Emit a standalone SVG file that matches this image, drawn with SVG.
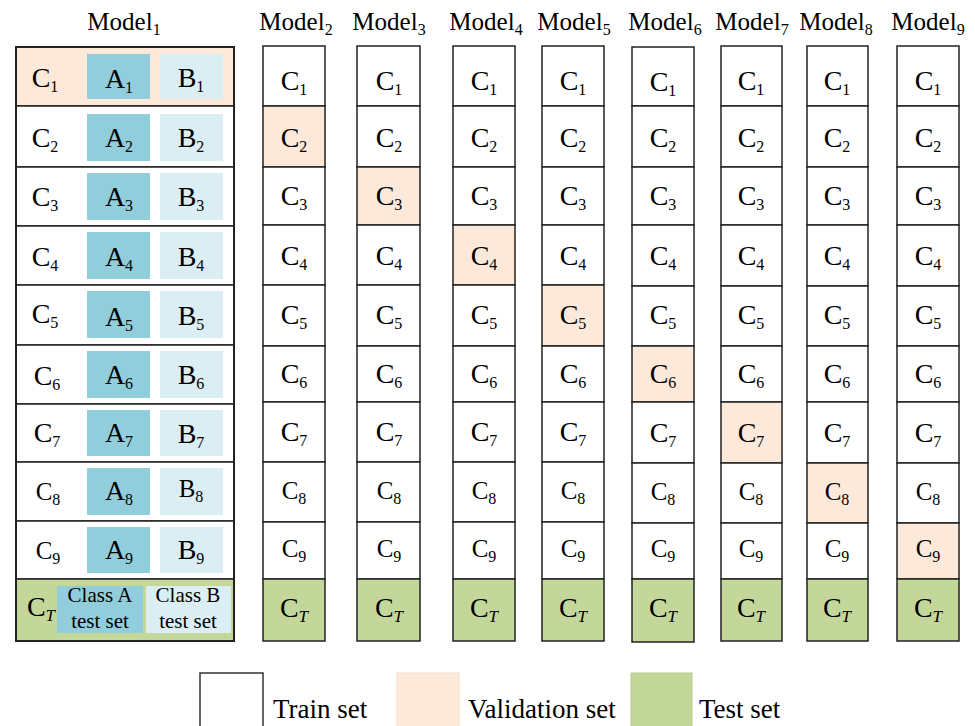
<svg xmlns="http://www.w3.org/2000/svg" width="975" height="726" viewBox="0 0 975 726">
<style>
text{font-family:"Liberation Serif","Times New Roman",serif;fill:#000}
.t{font-size:25px}
.c{font-size:28px;text-anchor:middle}
.s{font-size:16px}
.ts{font-size:17px;font-style:italic}
.cap{font-size:21px;text-anchor:middle}
.lg{font-size:27px}
.cell{fill:#fff;stroke:#222;stroke-width:1.5}
.val{fill:#FDE9D9;stroke:#222;stroke-width:1.5}
.tst{fill:#C4D79B;stroke:#222;stroke-width:1.5}
.a{fill:#92CDDC}
.b{fill:#DAEEF3}
</style>

<g id="titles">
<text class="t" x="124" y="30" text-anchor="middle">Model<tspan class="s" dy="5">1</tspan></text>
<text class="t" x="296" y="30" text-anchor="middle">Model<tspan class="s" dy="5">2</tspan></text>
<text class="t" x="389" y="30" text-anchor="middle">Model<tspan class="s" dy="5">3</tspan></text>
<text class="t" x="486" y="30" text-anchor="middle">Model<tspan class="s" dy="5">4</tspan></text>
<text class="t" x="574" y="30" text-anchor="middle">Model<tspan class="s" dy="5">5</tspan></text>
<text class="t" x="665" y="30" text-anchor="middle">Model<tspan class="s" dy="5">6</tspan></text>
<text class="t" x="752" y="30" text-anchor="middle">Model<tspan class="s" dy="5">7</tspan></text>
<text class="t" x="836" y="30" text-anchor="middle">Model<tspan class="s" dy="5">8</tspan></text>
<text class="t" x="928" y="30" text-anchor="middle">Model<tspan class="s" dy="5">9</tspan></text>
</g>

<g id="model1">
<rect class="val" x="16" y="47" width="218" height="59"/>
<rect class="cell" x="16" y="106" width="218" height="61"/>
<rect class="cell" x="16" y="167" width="218" height="59"/>
<rect class="cell" x="16" y="226" width="218" height="59"/>
<rect class="cell" x="16" y="285" width="218" height="60"/>
<rect class="cell" x="16" y="345" width="218" height="59"/>
<rect class="cell" x="16" y="404" width="218" height="58"/>
<rect class="cell" x="16" y="462" width="218" height="59"/>
<rect class="cell" x="16" y="521" width="218" height="58"/>
<rect class="tst" x="16" y="579" width="218" height="62"/>
<rect x="16" y="47" width="218" height="594" fill="none" stroke="#222" stroke-width="2"/>
<g>
<rect class="a" x="87" y="54" width="63" height="45"/><rect class="b" x="160" y="54" width="63" height="45"/>
<rect class="a" x="87" y="114" width="63" height="47"/><rect class="b" x="160" y="114" width="63" height="47"/>
<rect class="a" x="87" y="173" width="63" height="47"/><rect class="b" x="160" y="173" width="63" height="47"/>
<rect class="a" x="87" y="232" width="63" height="47"/><rect class="b" x="160" y="232" width="63" height="47"/>
<rect class="a" x="87" y="291" width="63" height="47"/><rect class="b" x="160" y="291" width="63" height="47"/>
<rect class="a" x="87" y="351" width="63" height="47"/><rect class="b" x="160" y="351" width="63" height="47"/>
<rect class="a" x="87" y="410" width="63" height="46"/><rect class="b" x="160" y="410" width="63" height="46"/>
<rect class="a" x="87" y="468" width="63" height="47"/><rect class="b" x="160" y="468" width="63" height="47"/>
<rect class="a" x="87" y="527" width="63" height="46"/><rect class="b" x="160" y="527" width="63" height="46"/>
<rect class="a" x="57" y="586" width="86" height="47"/><rect class="b" x="146" y="586" width="85" height="47"/>
</g>
<g>
<text class="c" x="45" y="87">C<tspan class="s" dy="5">1</tspan></text>
<text class="c" x="119" y="88">A<tspan class="s" dy="5">1</tspan></text>
<text class="c" x="191" y="87">B<tspan class="s" dy="5">1</tspan></text>
<text class="c" x="45" y="147">C<tspan class="s" dy="5">2</tspan></text>
<text class="c" x="119" y="147">A<tspan class="s" dy="5">2</tspan></text>
<text class="c" x="191" y="147">B<tspan class="s" dy="5">2</tspan></text>
<text class="c" x="45" y="206">C<tspan class="s" dy="5">3</tspan></text>
<text class="c" x="119" y="206">A<tspan class="s" dy="5">3</tspan></text>
<text class="c" x="191" y="206">B<tspan class="s" dy="5">3</tspan></text>
<text class="c" x="45" y="266">C<tspan class="s" dy="5">4</tspan></text>
<text class="c" x="119" y="266">A<tspan class="s" dy="5">4</tspan></text>
<text class="c" x="191" y="266">B<tspan class="s" dy="5">4</tspan></text>
<text class="c" x="45" y="323">C<tspan class="s" dy="5">5</tspan></text>
<text class="c" x="119" y="326">A<tspan class="s" dy="5">5</tspan></text>
<text class="c" x="191" y="325">B<tspan class="s" dy="5">5</tspan></text>
<text class="c" x="47" y="385">C<tspan class="s" dy="5">6</tspan></text>
<text class="c" x="119" y="384">A<tspan class="s" dy="5">6</tspan></text>
<text class="c" x="191" y="384">B<tspan class="s" dy="5">6</tspan></text>
<text class="c" x="47" y="442">C<tspan class="s" dy="5">7</tspan></text>
<text class="c" x="119" y="442">A<tspan class="s" dy="5">7</tspan></text>
<text class="c" x="191" y="443">B<tspan class="s" dy="5">7</tspan></text>
<text class="c" x="48" y="500" style="font-size:25px">C<tspan class="s" dy="5">8</tspan></text>
<text class="c" x="119" y="500">A<tspan class="s" dy="5">8</tspan></text>
<text class="c" x="191" y="497" style="font-size:25px">B<tspan class="s" dy="5">8</tspan></text>
<text class="c" x="48" y="559" style="font-size:25px">C<tspan class="s" dy="5">9</tspan></text>
<text class="c" x="119" y="559">A<tspan class="s" dy="5">9</tspan></text>
<text class="c" x="191" y="559">B<tspan class="s" dy="5">9</tspan></text>
<text class="c" x="41" y="616">C<tspan class="ts" dy="5">T</tspan></text>
<text class="cap" x="100" y="602">Class A</text>
<text class="cap" x="100" y="628">test set</text>
<text class="cap" x="188" y="602">Class B</text>
<text class="cap" x="188" y="628">test set</text>
</g>
</g>

<g id="model2">
<rect class="cell" x="263" y="46" width="62" height="60"/>
<rect class="val" x="263" y="106" width="62" height="61"/>
<rect class="cell" x="263" y="167" width="62" height="58"/>
<rect class="cell" x="263" y="225" width="62" height="60"/>
<rect class="cell" x="263" y="285" width="62" height="61"/>
<rect class="cell" x="263" y="346" width="62" height="56"/>
<rect class="cell" x="263" y="402" width="62" height="60"/>
<rect class="cell" x="263" y="462" width="62" height="60"/>
<rect class="cell" x="263" y="522" width="62" height="57"/>
<rect class="tst" x="263" y="579" width="62" height="62"/>
<g>
<text class="c" x="294" y="90">C<tspan class="s" dy="5">1</tspan></text>
<text class="c" x="294" y="147">C<tspan class="s" dy="5">2</tspan></text>
<text class="c" x="294" y="205">C<tspan class="s" dy="5">3</tspan></text>
<text class="c" x="294" y="265">C<tspan class="s" dy="5">4</tspan></text>
<text class="c" x="294" y="324">C<tspan class="s" dy="5">5</tspan></text>
<text class="c" x="294" y="383">C<tspan class="s" dy="5">6</tspan></text>
<text class="c" x="294" y="441">C<tspan class="s" dy="5">7</tspan></text>
<text class="c" x="294" y="499" style="font-size:25px">C<tspan class="s" dy="5">8</tspan></text>
<text class="c" x="294" y="557" style="font-size:25px">C<tspan class="s" dy="5">9</tspan></text>
<text class="c" x="294" y="617">C<tspan class="ts" dy="5">T</tspan></text>
</g>
</g>

<g id="model3">
<rect class="cell" x="357" y="46" width="63" height="60"/>
<rect class="cell" x="357" y="106" width="63" height="61"/>
<rect class="val" x="357" y="167" width="63" height="58"/>
<rect class="cell" x="357" y="225" width="63" height="60"/>
<rect class="cell" x="357" y="285" width="63" height="61"/>
<rect class="cell" x="357" y="346" width="63" height="56"/>
<rect class="cell" x="357" y="402" width="63" height="60"/>
<rect class="cell" x="357" y="462" width="63" height="60"/>
<rect class="cell" x="357" y="522" width="63" height="57"/>
<rect class="tst" x="357" y="579" width="63" height="62"/>
<g>
<text class="c" x="389" y="90">C<tspan class="s" dy="5">1</tspan></text>
<text class="c" x="389" y="147">C<tspan class="s" dy="5">2</tspan></text>
<text class="c" x="389" y="205">C<tspan class="s" dy="5">3</tspan></text>
<text class="c" x="389" y="265">C<tspan class="s" dy="5">4</tspan></text>
<text class="c" x="389" y="324">C<tspan class="s" dy="5">5</tspan></text>
<text class="c" x="389" y="383">C<tspan class="s" dy="5">6</tspan></text>
<text class="c" x="389" y="441">C<tspan class="s" dy="5">7</tspan></text>
<text class="c" x="389" y="499" style="font-size:25px">C<tspan class="s" dy="5">8</tspan></text>
<text class="c" x="389" y="557" style="font-size:25px">C<tspan class="s" dy="5">9</tspan></text>
<text class="c" x="389" y="617">C<tspan class="ts" dy="5">T</tspan></text>
</g>
</g>

<g id="model4">
<rect class="cell" x="453" y="46" width="62" height="60"/>
<rect class="cell" x="453" y="106" width="62" height="61"/>
<rect class="cell" x="453" y="167" width="62" height="58"/>
<rect class="val" x="453" y="225" width="62" height="60"/>
<rect class="cell" x="453" y="285" width="62" height="61"/>
<rect class="cell" x="453" y="346" width="62" height="56"/>
<rect class="cell" x="453" y="402" width="62" height="60"/>
<rect class="cell" x="453" y="462" width="62" height="60"/>
<rect class="cell" x="453" y="522" width="62" height="57"/>
<rect class="tst" x="453" y="579" width="62" height="62"/>
<g>
<text class="c" x="484" y="90">C<tspan class="s" dy="5">1</tspan></text>
<text class="c" x="484" y="147">C<tspan class="s" dy="5">2</tspan></text>
<text class="c" x="484" y="205">C<tspan class="s" dy="5">3</tspan></text>
<text class="c" x="484" y="265">C<tspan class="s" dy="5">4</tspan></text>
<text class="c" x="484" y="324">C<tspan class="s" dy="5">5</tspan></text>
<text class="c" x="484" y="383">C<tspan class="s" dy="5">6</tspan></text>
<text class="c" x="484" y="441">C<tspan class="s" dy="5">7</tspan></text>
<text class="c" x="484" y="499" style="font-size:25px">C<tspan class="s" dy="5">8</tspan></text>
<text class="c" x="484" y="557" style="font-size:25px">C<tspan class="s" dy="5">9</tspan></text>
<text class="c" x="484" y="617">C<tspan class="ts" dy="5">T</tspan></text>
</g>
</g>

<g id="model5">
<rect class="cell" x="542" y="46" width="62" height="60"/>
<rect class="cell" x="542" y="106" width="62" height="61"/>
<rect class="cell" x="542" y="167" width="62" height="58"/>
<rect class="cell" x="542" y="225" width="62" height="60"/>
<rect class="val" x="542" y="285" width="62" height="61"/>
<rect class="cell" x="542" y="346" width="62" height="56"/>
<rect class="cell" x="542" y="402" width="62" height="60"/>
<rect class="cell" x="542" y="462" width="62" height="60"/>
<rect class="cell" x="542" y="522" width="62" height="57"/>
<rect class="tst" x="542" y="579" width="62" height="62"/>
<g>
<text class="c" x="573" y="90">C<tspan class="s" dy="5">1</tspan></text>
<text class="c" x="573" y="147">C<tspan class="s" dy="5">2</tspan></text>
<text class="c" x="573" y="205">C<tspan class="s" dy="5">3</tspan></text>
<text class="c" x="573" y="265">C<tspan class="s" dy="5">4</tspan></text>
<text class="c" x="573" y="324">C<tspan class="s" dy="5">5</tspan></text>
<text class="c" x="573" y="383">C<tspan class="s" dy="5">6</tspan></text>
<text class="c" x="573" y="441">C<tspan class="s" dy="5">7</tspan></text>
<text class="c" x="573" y="499" style="font-size:25px">C<tspan class="s" dy="5">8</tspan></text>
<text class="c" x="573" y="557" style="font-size:25px">C<tspan class="s" dy="5">9</tspan></text>
<text class="c" x="573" y="617">C<tspan class="ts" dy="5">T</tspan></text>
</g>
</g>

<g id="model6">
<rect class="cell" x="632" y="47" width="62" height="59"/>
<rect class="cell" x="632" y="106" width="62" height="61"/>
<rect class="cell" x="632" y="167" width="62" height="58"/>
<rect class="cell" x="632" y="225" width="62" height="61"/>
<rect class="cell" x="632" y="286" width="62" height="60"/>
<rect class="val" x="632" y="346" width="62" height="56"/>
<rect class="cell" x="632" y="402" width="62" height="61"/>
<rect class="cell" x="632" y="463" width="62" height="60"/>
<rect class="cell" x="632" y="523" width="62" height="56"/>
<rect class="tst" x="632" y="579" width="62" height="63"/>
<g>
<text class="c" x="663" y="91">C<tspan class="s" dy="5">1</tspan></text>
<text class="c" x="663" y="147">C<tspan class="s" dy="5">2</tspan></text>
<text class="c" x="663" y="205">C<tspan class="s" dy="5">3</tspan></text>
<text class="c" x="663" y="265">C<tspan class="s" dy="5">4</tspan></text>
<text class="c" x="663" y="324">C<tspan class="s" dy="5">5</tspan></text>
<text class="c" x="663" y="383">C<tspan class="s" dy="5">6</tspan></text>
<text class="c" x="663" y="442">C<tspan class="s" dy="5">7</tspan></text>
<text class="c" x="663" y="500" style="font-size:25px">C<tspan class="s" dy="5">8</tspan></text>
<text class="c" x="663" y="557" style="font-size:25px">C<tspan class="s" dy="5">9</tspan></text>
<text class="c" x="663" y="617">C<tspan class="ts" dy="5">T</tspan></text>
</g>
</g>

<g id="model7">
<rect class="cell" x="721" y="46" width="61" height="60"/>
<rect class="cell" x="721" y="106" width="61" height="61"/>
<rect class="cell" x="721" y="167" width="61" height="58"/>
<rect class="cell" x="721" y="225" width="61" height="61"/>
<rect class="cell" x="721" y="286" width="61" height="60"/>
<rect class="cell" x="721" y="346" width="61" height="56"/>
<rect class="val" x="721" y="402" width="61" height="61"/>
<rect class="cell" x="721" y="463" width="61" height="60"/>
<rect class="cell" x="721" y="523" width="61" height="56"/>
<rect class="tst" x="721" y="579" width="61" height="62"/>
<g>
<text class="c" x="751" y="90">C<tspan class="s" dy="5">1</tspan></text>
<text class="c" x="751" y="147">C<tspan class="s" dy="5">2</tspan></text>
<text class="c" x="751" y="205">C<tspan class="s" dy="5">3</tspan></text>
<text class="c" x="751" y="265">C<tspan class="s" dy="5">4</tspan></text>
<text class="c" x="751" y="324">C<tspan class="s" dy="5">5</tspan></text>
<text class="c" x="751" y="383">C<tspan class="s" dy="5">6</tspan></text>
<text class="c" x="751" y="442">C<tspan class="s" dy="5">7</tspan></text>
<text class="c" x="751" y="500" style="font-size:25px">C<tspan class="s" dy="5">8</tspan></text>
<text class="c" x="751" y="557" style="font-size:25px">C<tspan class="s" dy="5">9</tspan></text>
<text class="c" x="751" y="617">C<tspan class="ts" dy="5">T</tspan></text>
</g>
</g>

<g id="model8">
<rect class="cell" x="807" y="46" width="61" height="60"/>
<rect class="cell" x="807" y="106" width="61" height="61"/>
<rect class="cell" x="807" y="167" width="61" height="58"/>
<rect class="cell" x="807" y="225" width="61" height="61"/>
<rect class="cell" x="807" y="286" width="61" height="60"/>
<rect class="cell" x="807" y="346" width="61" height="56"/>
<rect class="cell" x="807" y="402" width="61" height="61"/>
<rect class="val" x="807" y="463" width="61" height="60"/>
<rect class="cell" x="807" y="523" width="61" height="56"/>
<rect class="tst" x="807" y="579" width="61" height="62"/>
<g>
<text class="c" x="837" y="90">C<tspan class="s" dy="5">1</tspan></text>
<text class="c" x="837" y="147">C<tspan class="s" dy="5">2</tspan></text>
<text class="c" x="837" y="205">C<tspan class="s" dy="5">3</tspan></text>
<text class="c" x="837" y="265">C<tspan class="s" dy="5">4</tspan></text>
<text class="c" x="837" y="324">C<tspan class="s" dy="5">5</tspan></text>
<text class="c" x="837" y="383">C<tspan class="s" dy="5">6</tspan></text>
<text class="c" x="837" y="442">C<tspan class="s" dy="5">7</tspan></text>
<text class="c" x="837" y="500" style="font-size:25px">C<tspan class="s" dy="5">8</tspan></text>
<text class="c" x="837" y="557" style="font-size:25px">C<tspan class="s" dy="5">9</tspan></text>
<text class="c" x="837" y="617">C<tspan class="ts" dy="5">T</tspan></text>
</g>
</g>

<g id="model9">
<rect class="cell" x="897" y="46" width="62" height="60"/>
<rect class="cell" x="897" y="106" width="62" height="61"/>
<rect class="cell" x="897" y="167" width="62" height="58"/>
<rect class="cell" x="897" y="225" width="62" height="61"/>
<rect class="cell" x="897" y="286" width="62" height="60"/>
<rect class="cell" x="897" y="346" width="62" height="56"/>
<rect class="cell" x="897" y="402" width="62" height="61"/>
<rect class="cell" x="897" y="463" width="62" height="60"/>
<rect class="val" x="897" y="523" width="62" height="56"/>
<rect class="tst" x="897" y="579" width="62" height="62"/>
<g>
<text class="c" x="928" y="90">C<tspan class="s" dy="5">1</tspan></text>
<text class="c" x="928" y="147">C<tspan class="s" dy="5">2</tspan></text>
<text class="c" x="928" y="205">C<tspan class="s" dy="5">3</tspan></text>
<text class="c" x="928" y="265">C<tspan class="s" dy="5">4</tspan></text>
<text class="c" x="928" y="324">C<tspan class="s" dy="5">5</tspan></text>
<text class="c" x="928" y="383">C<tspan class="s" dy="5">6</tspan></text>
<text class="c" x="928" y="442">C<tspan class="s" dy="5">7</tspan></text>
<text class="c" x="928" y="500" style="font-size:25px">C<tspan class="s" dy="5">8</tspan></text>
<text class="c" x="928" y="557" style="font-size:25px">C<tspan class="s" dy="5">9</tspan></text>
<text class="c" x="928" y="617">C<tspan class="ts" dy="5">T</tspan></text>
</g>
</g>

<g id="legend">
<rect x="200" y="673" width="63" height="70" fill="#fff" stroke="#333" stroke-width="1.5"/>
<text class="lg" x="273" y="718">Train set</text>
<rect x="397" y="673" width="62" height="70" fill="#FDE9D9" stroke="#F2DCCB" stroke-width="1"/>
<text class="lg" x="468" y="718">Validation set</text>
<rect x="631" y="673" width="61" height="70" fill="#C4D79B" stroke="#B7C98F" stroke-width="1"/>
<text class="lg" x="699" y="718">Test set</text>
</g>
</svg>
